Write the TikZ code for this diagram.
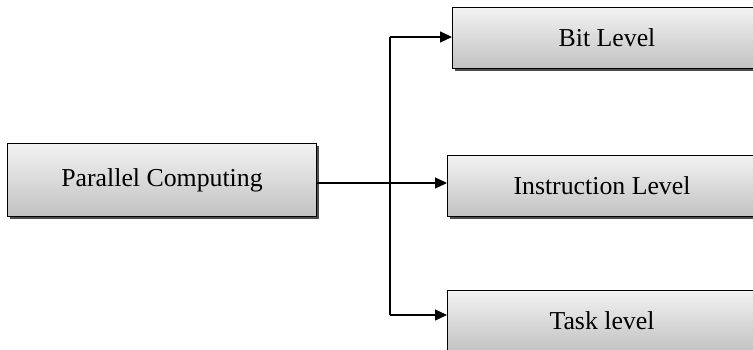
\documentclass[tikz,border=0pt]{standalone}
\usepackage{fontspec}
\setmainfont{Liberation Serif}
\usetikzlibrary{arrows.meta,shadows}
\begin{document}
\begin{tikzpicture}[x=1pt,y=-1pt,
  levelbox/.style={draw=black, line width=1pt, rectangle, anchor=north west,
    minimum width=309pt, minimum height=61pt, inner sep=0pt,
    top color=gray!10, bottom color=gray!48,
    drop shadow={shadow xshift=2.5pt, shadow yshift=-2.5pt, fill=black!70, opacity=1},
    font=\fontsize{25.8}{30}\selectfont},
  conn/.style={line width=1.4pt},
  arr/.style={conn, -{Triangle[length=12pt,width=11pt]}}]
\useasboundingbox (0,0) rectangle (753,350);
\node[levelbox, minimum height=73pt] (pc) at (7,143) {Parallel Computing};
\node[levelbox] (bit) at (452,7) {Bit Level};
\node[levelbox] (inst) at (447,155) {Instruction Level};
\node[levelbox] (task) at (447,290) {Task level};
\coordinate (mid) at (390,183);
\coordinate (top) at (390,37);
\coordinate (bot) at (390,315);
\draw[conn] (top) -- (bot);
\draw[arr] (pc.east |- mid) -- (inst.west |- mid);
\draw[arr] (top) -- (bit.west |- top);
\draw[arr] (bot) -- (task.west |- bot);
\end{tikzpicture}
\end{document}
